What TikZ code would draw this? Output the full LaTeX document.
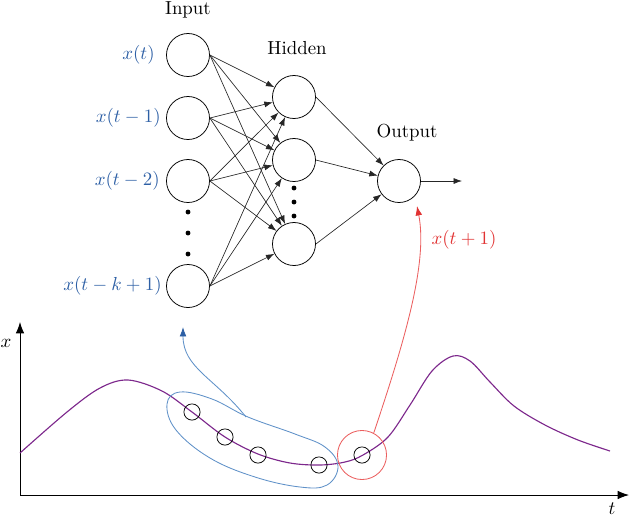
\documentclass[tikz,border=0pt]{standalone}
\usetikzlibrary{arrows.meta}
\definecolor{inblue}{RGB}{45,95,165}
\definecolor{loopblue}{RGB}{95,145,200}
\definecolor{outred}{RGB}{225,50,50}
\definecolor{loopred}{RGB}{235,95,95}
\definecolor{curvepurple}{RGB}{125,40,140}
\begin{document}
\begin{tikzpicture}[x=0.53pt,y=-0.53pt,
  neuron/.style={circle,draw,thin,minimum size=22.8pt,inner sep=0pt},
  sample/.style={circle,draw,thin,minimum size=8.6pt,inner sep=0pt},
  conn/.style={-{Latex[length=4.5pt,width=3.2pt]},line width=0.35pt,black!85},
  dotn/.style={circle,fill,inner sep=0pt,minimum size=2.6pt},
  inlab/.style={text=inblue,anchor=east,inner sep=0pt}]
\useasboundingbox (0,0) rectangle (630,517);
% network
\node[neuron] (i1) at (188,55) {};
\node[neuron] (i2) at (188,118) {};
\node[neuron] (i3) at (188,181) {};
\node[neuron] (i4) at (188,286) {};
\node[neuron] (h1) at (294,97) {};
\node[neuron] (h2) at (294,160) {};
\node[neuron] (h3) at (294,244) {};
\node[neuron] (o) at (399,181) {};
\coordinate (oend) at (462,181);
\node (lin) at (188,10) {Input};
\node (lhid) at (297,48) {Hidden};
\node (lout) at (407,133) {Output};
\node[inlab] (l1) at (155,55) {$x(t)$};
\node[inlab] (l2) at (161,118) {$x(t-1)$};
\node[inlab] (l3) at (160,181) {$x(t-2)$};
\node[inlab] (l4) at (162,286) {$x(t-k+1)$};
\node[dotn] (d1) at (188,212) {};
\node[dotn] (d2) at (188,233) {};
\node[dotn] (d3) at (188,254) {};
\node[dotn] (e1) at (294,188) {};
\node[dotn] (e2) at (294,202) {};
\node[dotn] (e3) at (294,216) {};
\foreach \i in {i1,i2,i3,i4}{
  \foreach \h in {h1,h2,h3}{
    \draw[conn] (\i.east) -- (\h);
  }
}
\foreach \h in {h1,h2,h3}{\draw[conn] (\h.east) -- (o);}
\draw[conn] (o) -- (oend);
% axes
\coordinate (orig) at (20,495);
\coordinate (yend) at (20,322);
\coordinate (xend) at (629,495);
\draw[-{Latex[length=6pt,width=4.5pt]},line width=0.45pt] (orig) -- (yend);
\draw[-{Latex[length=6pt,width=4.5pt]},line width=0.45pt] (orig) -- (xend);
\node (xl) at (6,343) {$x$};
\node (tl) at (612,509) {$t$};
% time series
\draw[curvepurple,line width=0.6pt] plot[smooth,tension=0.55] coordinates {
 (20,453) (67,412) (100,388) (128,380) (162,391) (192,412) (225,437) (258,454)
 (290,463) (320,465) (345,462) (363,455) (388,437) (410,405) (432,371) (453,356)
 (470,361) (490,382) (514,406) (545,425) (578,440) (610,451)};
% blue group
\draw[loopblue,line width=0.45pt] plot[smooth cycle,tension=0.65] coordinates {
 (167,404) (180,392) (212,399) (248,417) (295,434) (325,447) (338,466)
 (327,485) (300,487) (255,477) (210,458) (176,430)};
\coordinate (bstart) at (246,417);
\coordinate (btip) at (183,327);
\draw[loopblue,line width=0.45pt,
  arrows={-{Latex[length=5pt,width=3.6pt,fill=inblue,color=inblue]}}]
  (bstart) .. controls (215,378) and (183,368) .. (btip);
% samples
\node[sample] (s1) at (192,412) {};
\node[sample] (s2) at (225,437) {};
\node[sample] (s3) at (258,455) {};
\node[sample] (s4) at (319,465) {};
\node[sample] (s5) at (362,455) {};
% red target
\node[circle,draw=loopred,line width=0.45pt,minimum size=26pt,inner sep=0pt] (rc) at (362,455) {};
\coordinate (rtip) at (417,206);
\draw[loopred,line width=0.45pt,arrows={-{Latex[length=5pt,width=3.6pt,color=outred]}}]
  (rc.62) .. controls (405,340) and (428,262) .. (rtip);
\node[text=outred] (rl) at (464,240) {$x(t+1)$};
\end{tikzpicture}
\end{document}
